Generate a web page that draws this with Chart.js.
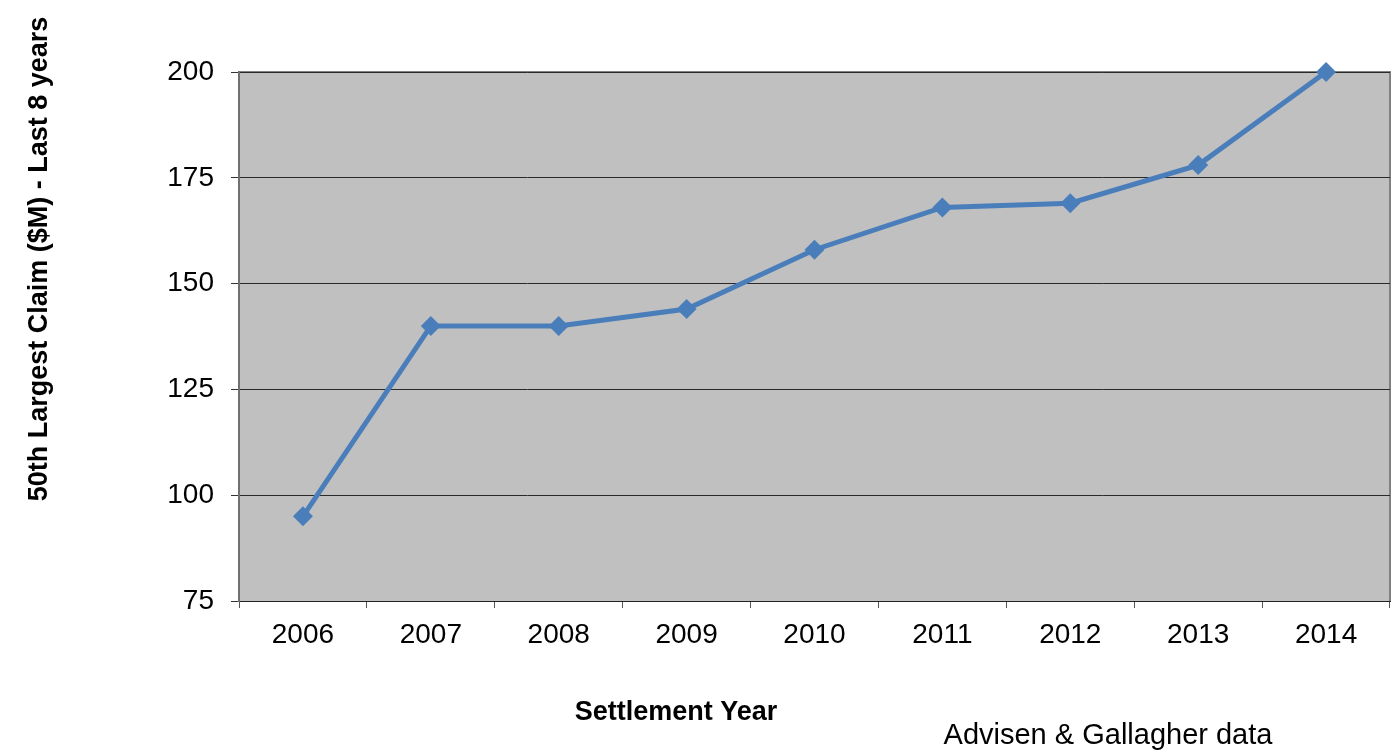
<!DOCTYPE html>
<html>
<head>
<meta charset="utf-8">
<script src="https://cdn.jsdelivr.net/npm/chart.js@4"></script>
<style>
  body { margin: 0; background: #fff; }
  #wrap { width: 1400px; height: 750px; }
</style>
</head>
<body>
<div id="wrap"><canvas id="myChart" width="1400" height="750"></canvas></div>
<script>
var years = ['2006', '2007', '2008', '2009', '2010', '2011', '2012', '2013', '2014'];
var claim50th = [95, 140, 140, 144, 158, 168, 169, 178, 200];
var yTicks = [75, 100, 125, 150, 175, 200];

var fontFamily = '"Liberation Sans", Arial, sans-serif';

// grey plot background plus frame, drawn before the grid; axis titles and source note after
var plotFrame = {
    id: 'plotFrame',
    beforeDraw: function(chart) {
        var a = chart.chartArea;
        var ctx = chart.ctx;
        ctx.save();
        ctx.fillStyle = '#c0c0c0';
        ctx.fillRect(a.left, a.top, a.right - a.left, a.bottom - a.top);
        ctx.strokeStyle = '#808080';
        ctx.lineWidth = 2;
        ctx.beginPath();
        ctx.moveTo(a.left, a.top);
        ctx.lineTo(a.right, a.top);
        ctx.lineTo(a.right, a.bottom);
        ctx.stroke();
        ctx.restore();
    },
    afterDraw: function(chart) {
        var ctx = chart.ctx;
        ctx.save();
        ctx.fillStyle = '#000';
        ctx.textAlign = 'center';
        ctx.textBaseline = 'middle';
        ctx.font = 'bold 27px ' + fontFamily;
        ctx.fillText('Settlement Year', 676, 713);
        ctx.save();
        ctx.translate(40, 259);
        ctx.rotate(-Math.PI / 2);
        ctx.fillText('50th Largest Claim ($M) - Last 8 years', 0, 0);
        ctx.restore();
        ctx.font = '29px ' + fontFamily;
        ctx.fillText('Advisen & Gallagher data', 1108, 736);
        ctx.restore();
    }
};

var ctx = document.getElementById('myChart').getContext('2d');
var myChart = new Chart(ctx, {
    type: 'line',
    data: {
        labels: years,
        datasets: [{
            label: '50th Largest Claim',
            data: claim50th,
            borderColor: '#4a7ebb',
            backgroundColor: '#4a7ebb',
            borderWidth: 5,
            pointStyle: 'rectRot',
            pointRadius: 10,
            pointBorderWidth: 0,
            tension: 0,
            clip: false
        }]
    },
    options: {
        responsive: false,
        animation: false,
        layout: { padding: { top: 72, right: 9, left: 0, bottom: 0 } },
        plugins: {
            legend: { display: false },
            tooltip: { enabled: false }
        },
        scales: {
            x: {
                offset: true,
                grid: {
                    offset: true,
                    drawOnChartArea: false,
                    drawTicks: true,
                    tickLength: 7,
                    color: '#555'
                },
                border: { display: true, color: '#222', width: 1 },
                ticks: {
                    color: '#000',
                    padding: 10,
                    font: { family: fontFamily, size: 28 }
                },
                afterFit: function(scale) { scale.height = 149; }
            },
            y: {
                min: 75,
                max: 200,
                afterBuildTicks: function(scale) {
                    scale.ticks = yTicks.map(function(v) { return { value: v }; });
                },
                grid: {
                    color: '#2a2a2a',
                    lineWidth: 1,
                    tickLength: 8,
                    tickColor: '#333'
                },
                border: { display: true, color: '#707070', width: 2 },
                ticks: {
                    color: '#000',
                    padding: 17,
                    font: { family: fontFamily, size: 28 }
                },
                afterFit: function(scale) { scale.width = 239; }
            }
        }
    },
    plugins: [plotFrame]
});
</script>
</body>
</html>
